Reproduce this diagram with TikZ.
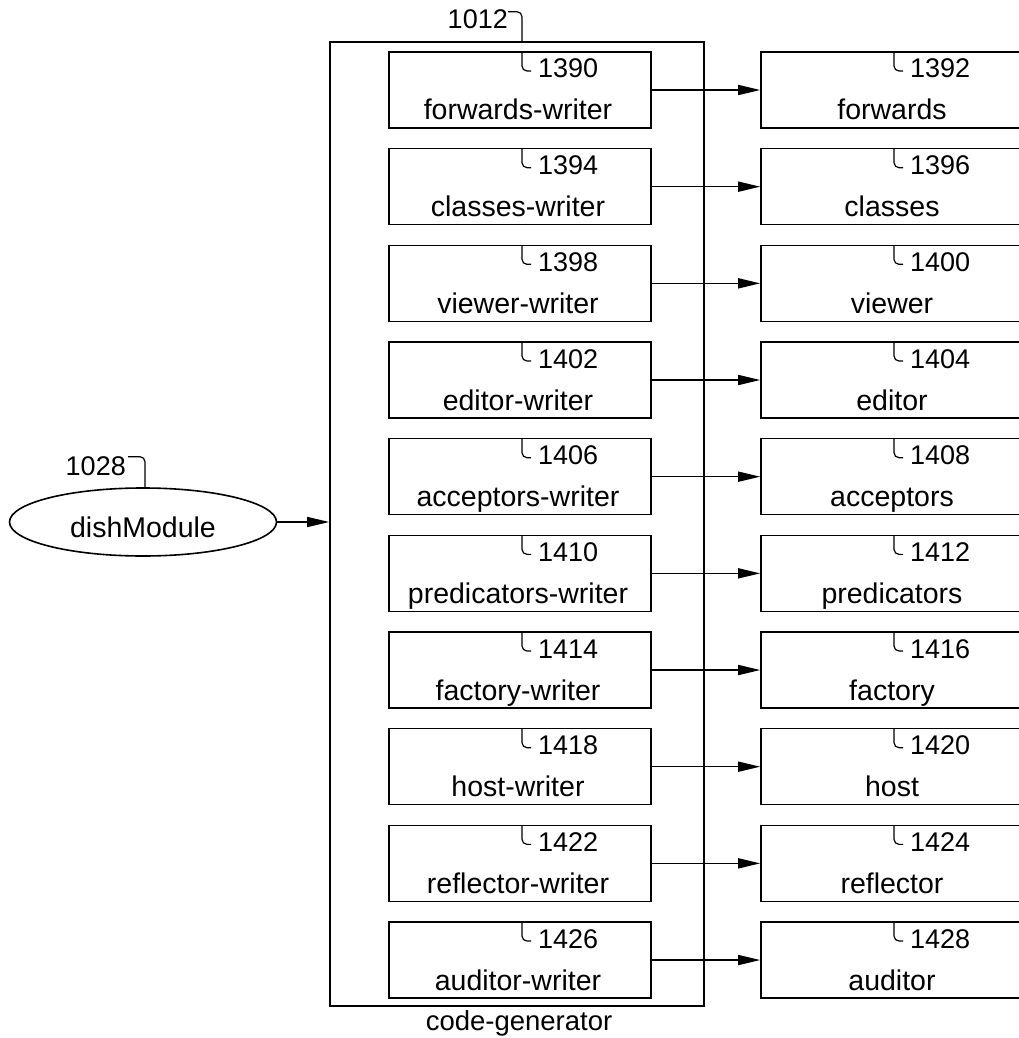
\documentclass[tikz,border=0pt]{standalone}
\usepackage{fontspec}
\setmainfont{Liberation Sans}
\usetikzlibrary{arrows.meta,shapes.geometric,calc}
\begin{document}
\begin{tikzpicture}[x=1pt,y=-1pt,
  box/.style={draw,line width=1.6pt,minimum width=262pt,minimum height=76pt,inner sep=0pt},
  lbl/.style={font=\fontsize{27}{27}\selectfont,inner sep=0pt},
  nmtext/.style={font=\fontsize{28.5}{28.5}\selectfont,inner sep=0pt},
  hook/.style={line width=1.2pt,rounded corners=5pt},
  conn/.style={line width=1.6pt,-{Triangle[length=22pt,width=10pt]}}]
\useasboundingbox (0,0) rectangle (1019,1038);
\clip (0,0) rectangle (1019,1038);
% outer code-generator box
\node[draw,line width=1.6pt,minimum width=374pt,minimum height=964pt,inner sep=0pt] (cg) at (517,524) {};
\node[nmtext,font=\fontsize{27.5}{27.5}\selectfont,anchor=base] (cgl) at (519,1030) {code-generator};
\node[lbl,anchor=base east] (n1012) at (508,29) {1012};
\draw[hook] (n1012.east) ++(0,-8) coordinate (h1012) -| (cg.north -| 522,0);
% dishModule
\node[draw,ellipse,line width=1.6pt,minimum width=267pt,minimum height=68pt,inner sep=0pt] (dish) at (143,522) {};
\node[nmtext,anchor=base] (dishl) at (143,537) {dishModule};
\node[lbl,anchor=base east] (n1028) at (126,475) {1028};
\draw[hook] (n1028.east) ++(2,-9) -| (dish.north -| 145,0);
\draw[conn] (dish.east) -- (dish.east -| cg.west);
% rows
\foreach \i/\wn/\wl/\rn/\rl in {
  0/1390/forwards-writer/1392/forwards,
  1/1394/classes-writer/1396/classes,
  2/1398/viewer-writer/1400/viewer,
  3/1402/editor-writer/1404/editor,
  4/1406/acceptors-writer/1408/acceptors,
  5/1410/predicators-writer/1412/predicators,
  6/1414/factory-writer/1416/factory,
  7/1418/host-writer/1420/host,
  8/1422/reflector-writer/1424/reflector,
  9/1426/auditor-writer/1428/auditor}{
  \pgfmathsetmacro\yt{52+\i*96.67}
  \node[box] (w\i) at (520,\yt+38) {};
  \node[box] (r\i) at (892,\yt+38) {};
  \node[nmtext,anchor=base] (wt\i) at (518,\yt+68) {\wl};
  \node[nmtext,anchor=base] (rt\i) at (892,\yt+68) {\rl};
  \draw[hook] (522,\yt) |- (531,\yt+19);
  \node[lbl,anchor=base west] (wn\i) at (538,\yt+26) {\wn};
  \draw[hook] (894,\yt) |- (903,\yt+19);
  \node[lbl,anchor=base west] (rn\i) at (910,\yt+26) {\rn};
  \draw[conn] (w\i) -- (r\i);
}
\end{tikzpicture}
\end{document}
